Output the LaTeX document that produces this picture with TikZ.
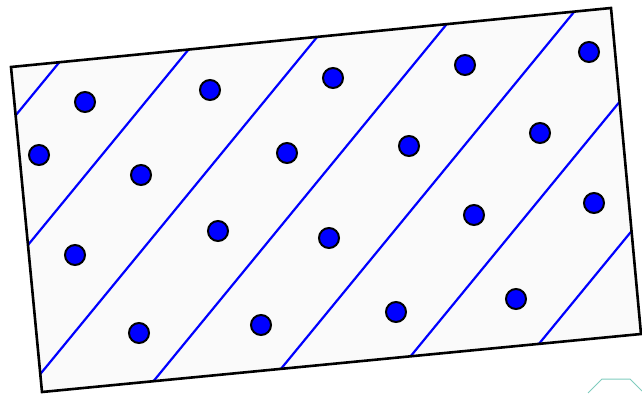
\documentclass[tikz,border=0pt]{standalone}
\begin{document}
\begin{tikzpicture}[x=1pt,y=-1pt,
  stripe/.style={draw=blue,line width=2.2pt},
  dot/.style={circle,draw=black,fill=blue,line width=2pt,minimum size=20pt,inner sep=0pt}]
\useasboundingbox (0,0) rectangle (642,395);
\coordinate (tl) at (11,67);
\coordinate (tr) at (611,8);
\coordinate (br) at (641,334);
\coordinate (bl) at (42,392);
\fill[black!2] (tl) -- (tr) -- (br) -- (bl) -- cycle;
\begin{scope}
\clip (tl) -- (tr) -- (br) -- (bl) -- cycle;
\foreach \px/\py in {16/115, 28/245, 42/372, 152/383, 280/370, 410/357, 538/345}{
  \draw[stripe] (\px,\py) ++(-300,365.3) -- ++(600,-730.6);
}
\end{scope}
\draw[draw=black,line width=2.6pt,line join=miter] (tl) -- (tr) -- (br) -- (bl) -- cycle;
\foreach \x/\y [count=\i] in {85/102, 210/90, 333/78, 465/65, 589/52,
  39/155, 141/175, 287/153, 409/146, 540/133,
  75/255, 218/231, 329/238, 474/215, 594/203,
  139/333, 261/325, 396/312, 516/299}{
  \node[dot] (d\i) at (\x,\y) {};
}
\coordinate (t1) at (588,393);
\coordinate (t2) at (602,379);
\coordinate (t3) at (630,379);
\coordinate (t4) at (642,391);
\draw[draw={rgb,255:red,128;green,204;blue,190},line width=1pt] (t1) -- (t2) -- (t3) -- (t4);
\end{tikzpicture}
\end{document}
